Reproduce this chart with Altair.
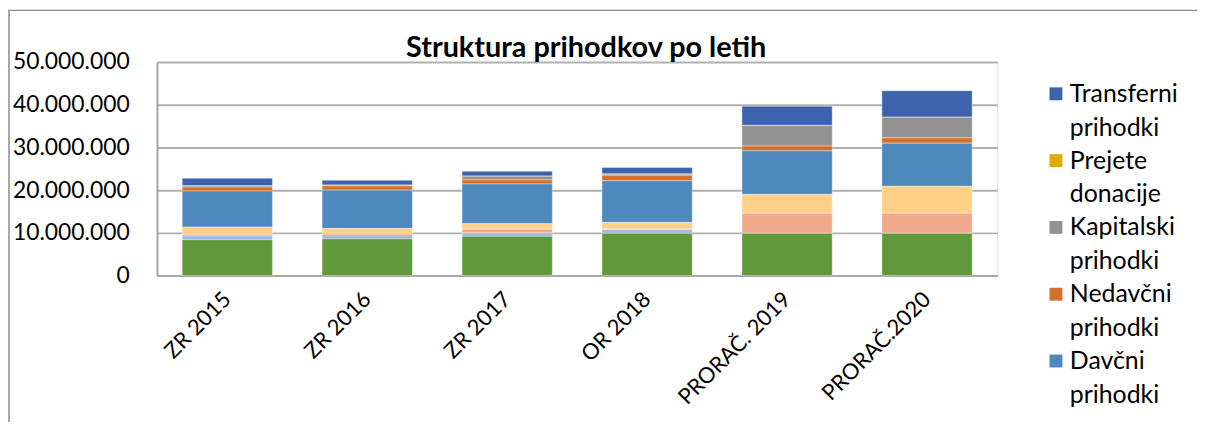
import altair as alt
import pandas as pd

# ---- data (values in EUR) ----
categories = ["ZR 2015", "ZR 2016", "ZR 2017", "OR 2018", "PRORAČ. 2019", "PRORAČ.2020"]

# series listed from top of stack (legend order) to bottom
series = [
    "Transferni prihodki",
    "Prejete donacije",
    "Kapitalski prihodki",
    "Nedavčni prihodki",
    "Davčni prihodki",
    "Drugi prihodki",
    "Domači davki na blago in storitve",
    "Davki na premoženje",
    "Dohodnina",
]
colors = ["#3D63AD", "#E3AA00", "#929292", "#D4712A", "#4E89BD",
          "#FFD085", "#F0A98A", "#9ABAE0", "#62983C"]

transferni = [1_800_000, 1_150_000, 1_150_000, 1_550_000, 4_500_000, 6_200_000]
donacije = [20_000, 20_000, 20_000, 20_000, 20_000, 20_000]
kapitalski = [250_000, 150_000, 850_000, 250_000, 4_800_000, 4_800_000]
nedavcni = [930_000, 1_000_000, 950_000, 1_300_000, 1_150_000, 1_250_000]
davcni = [8_450_000, 9_000_000, 9_300_000, 9_750_000, 10_200_000, 10_100_000]
drugi = [1_700_000, 1_100_000, 1_300_000, 1_550_000, 4_400_000, 6_300_000]
domaci = [400_000, 400_000, 850_000, 150_000, 4_700_000, 4_700_000]
premozenje = [850_000, 900_000, 800_000, 850_000, 0, 0]
dohodnina = [8_400_000, 8_600_000, 9_200_000, 9_900_000, 9_900_000, 9_900_000]

values = [transferni, donacije, kapitalski, nedavcni, davcni, drugi, domaci, premozenje, dohodnina]
legend_shown = series[:5]

FONT = "Lato"

rows = []
for si, (name, vals) in enumerate(zip(series, values)):
    for cat, v in zip(categories, vals):
        rows.append({"leto": cat, "serija": name, "vrednost": v, "red": len(series) - si})
df = pd.DataFrame(rows)

bars = alt.Chart(df).mark_bar(stroke="white", strokeWidth=0.6, strokeOpacity=0.6).encode(
    x=alt.X("leto:N", sort=categories, title=None,
            scale=alt.Scale(paddingInner=0.355, paddingOuter=0.18),
            axis=alt.Axis(labelAngle=-45, labelAlign="right", labelBaseline="middle",
                          labelFont=FONT, labelFontSize=22, labelColor="#000000",
                          labelPadding=20, ticks=False, domainColor="#A6A6A6",
                          domainWidth=2)),
    y=alt.Y("vrednost:Q", stack="zero", title=None,
            scale=alt.Scale(domain=[0, 50_000_000], nice=False),
            axis=alt.Axis(values=[0, 10_000_000, 20_000_000, 30_000_000, 40_000_000, 50_000_000],
                          format=",d", labelFont=FONT, labelFontSize=23, labelColor="#000000",
                          labelPadding=28, ticks=False, grid=True, gridColor="#B0B0B0",
                          gridWidth=2, domainColor="#A6A6A6", domainWidth=2)),
    color=alt.Color("serija:N", scale=alt.Scale(domain=series, range=colors), legend=None),
    order=alt.Order("red:Q", sort="ascending"),
)

# manual legend (5 visible entries, as in the reference)
leg_df = pd.DataFrame({"serija": legend_shown})
leg_base = alt.Chart(leg_df).transform_window(
    idx="row_number()"
).transform_calculate(
    l1="split(datum.serija, ' ')[0]",
    l2="split(datum.serija, ' ')[1]",
)
leg_y = alt.Y("idx:Q", scale=alt.Scale(domain=[1, 5], range=[32, 301]), axis=None)
leg_sym = leg_base.mark_square(size=169, opacity=1).encode(
    x=alt.value(905), y=leg_y,
    color=alt.Color("serija:N", scale=alt.Scale(domain=series, range=colors), legend=None),
)
leg_t1 = leg_base.mark_text(align="left", baseline="middle", font=FONT, fontSize=25,
                            color="#000000").encode(x=alt.value(919), y=leg_y, text="l1:N")
leg_t2 = leg_base.mark_text(align="left", baseline="middle", font=FONT, fontSize=25,
                            color="#000000", dy=34).encode(x=alt.value(919), y=leg_y, text="l2:N")

frame = alt.Chart(pd.DataFrame({"a": [0]})).mark_rect(
    fill=None, stroke="#8C8C8C", strokeWidth=1.5
).encode(x=alt.value(-149), x2=alt.value(1200), y=alt.value(-52), y2=alt.value(500))

title = alt.Chart(pd.DataFrame({"t": ["Struktura prihodkov po letih"]})).mark_text(
    font=FONT, fontSize=29, fontWeight="bold", color="#000000", align="center",
    baseline="alphabetic"
).encode(x=alt.value(432), y=alt.value(-5), text="t:N")

chart = alt.layer(frame, bars, leg_sym, leg_t1, leg_t2, title).resolve_scale(
    y="independent", color="shared"
).properties(
    width=846, height=215,
    autosize=alt.AutoSizeParams(type="none"),
    padding={"left": 150, "top": 53, "right": 201, "bottom": 146},
).configure_view(stroke=None).configure(
    locale={"number": {"decimal": ",", "thousands": ".", "grouping": [3], "currency": ["", " €"]}}
)

chart.save("out.html", embed_options={"renderer": "svg", "actions": False})
